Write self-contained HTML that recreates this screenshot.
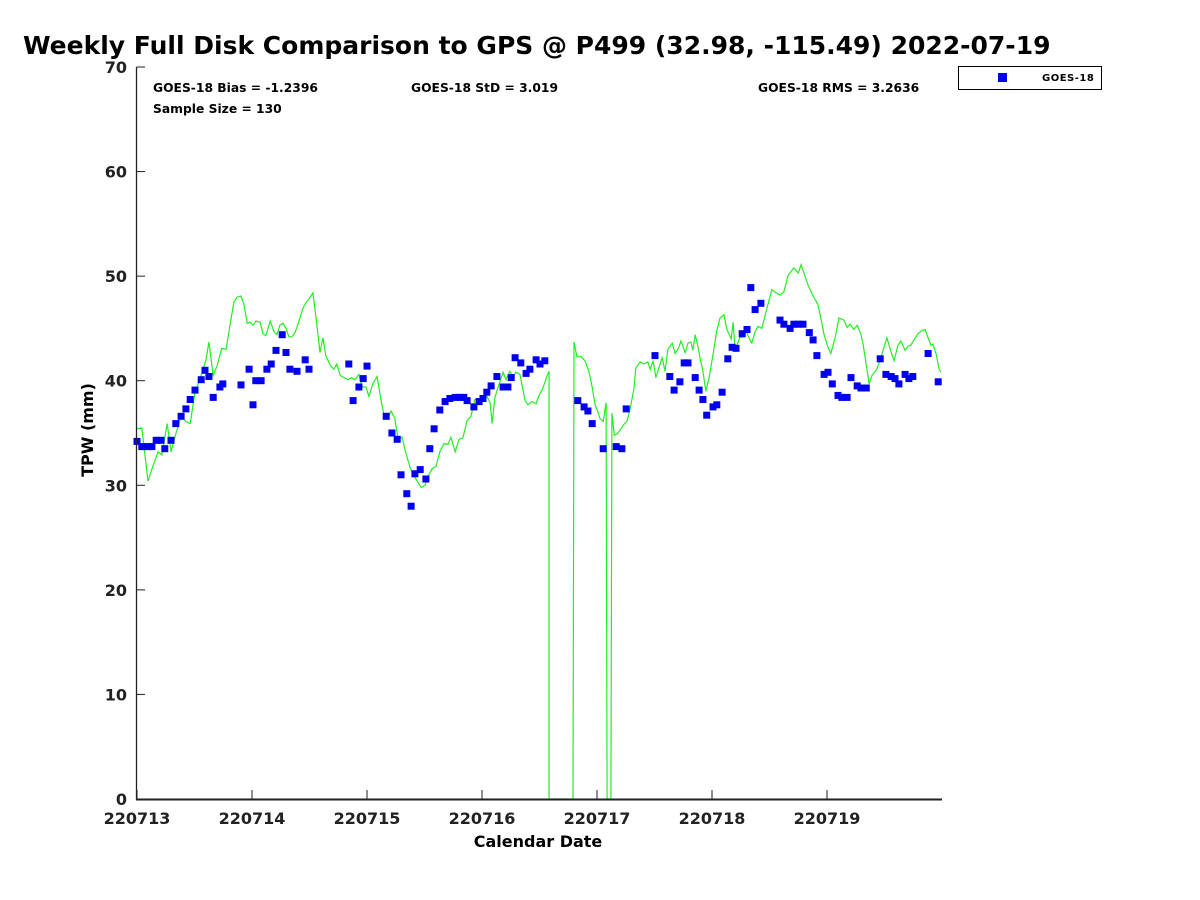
<!DOCTYPE html>
<html><head><meta charset="utf-8"><style>
body{margin:0;background:#fff;}
svg{display:block;font-family:"DejaVu Sans","Liberation Sans",sans-serif;font-weight:bold;}
</style></head><body>
<svg id="chart" width="1200" height="900" viewBox="0 0 1200 900">
<text x="23" y="54" font-size="25" fill="#000">Weekly Full Disk Comparison to GPS @ P499 (32.98, -115.49) 2022-07-19</text>
<text x="153" y="92" font-size="12.3">GOES-18 Bias = -1.2396</text>
<text x="153" y="113" font-size="12.3">Sample Size = 130</text>
<text x="411" y="92" font-size="12.3">GOES-18 StD = 3.019</text>
<text x="758" y="92" font-size="12.3">GOES-18 RMS = 3.2636</text>
<g>
<rect x="958.5" y="66.5" width="143" height="23" fill="#fff" stroke="#000" stroke-width="1"/>
<rect x="998" y="73" width="9" height="9" fill="#0000ee"/>
<text x="1042" y="81" font-size="10" letter-spacing="0.5">GOES-18</text>
</g>
<text transform="translate(93,430) rotate(-90)" text-anchor="middle" font-size="16">TPW (mm)</text>
<text x="538" y="847" text-anchor="middle" font-size="16">Calendar Date</text>
<g id="marks"></g>
<g id="axes"></g>
</svg>
<script>
const xTickLabels=["220713","220714","220715","220716","220717","220718","220719"];
const yTickValues=[0,10,20,30,40,50,60,70];
const lineHours=[0,1.0,2.3,3.3,4.4,5.2,6.3,7.1,8.1,9.2,10.2,11.1,12.1,13.1,14.4,15.0,15.9,16.7,17.7,18.6,19.4,20.2,20.9,21.7,22.3,23.0,23.6,24.2,24.8,25.7,26.3,26.9,27.8,28.6,29.2,29.8,30.5,31.1,31.7,32.3,33.0,33.8,34.6,35.3,35.9,36.7,37.4,38.2,38.8,39.4,40.3,41.1,41.7,42.4,43.2,44.1,44.7,45.5,46.3,47.0,47.8,48.4,49.3,50.1,50.9,51.5,52.4,53.0,53.8,54.5,55.3,56.1,57.0,57.8,58.6,59.3,60.1,60.7,61.6,62.4,63.2,64.1,64.9,65.5,66.4,67.2,68.0,68.9,69.7,70.5,71.4,72.2,72.8,73.7,74.1,74.7,75.5,76.4,77.0,77.8,78.5,79.1,79.9,81.0,81.6,82.4,83.3,83.9,84.7,85.6,86.0,86.0,91.0,91.2,91.8,92.7,93.5,94.3,95.0,95.6,96.2,96.6,97.3,97.9,98.1,98.9,99.1,99.6,100.2,101.0,101.6,102.3,102.9,103.7,104.1,105.0,105.8,106.6,107.1,107.7,108.3,108.9,109.6,110.2,110.8,111.7,112.3,113.1,113.5,114.4,115.0,115.6,116.0,116.5,117.1,117.5,118.1,118.7,119.4,120.2,121.0,121.7,122.5,123.1,124.0,124.4,124.8,125.2,125.8,126.7,127.1,127.7,128.3,129.0,129.6,130.4,130.9,131.5,132.5,133.4,134.2,135.0,135.9,137.1,138.0,138.6,139.4,140.0,141.1,142.1,142.7,143.4,144.2,144.8,145.7,146.5,147.5,148.2,148.8,149.6,150.3,151.1,151.5,152.1,152.8,153.4,154.4,155.1,155.9,156.5,157.4,158.0,158.8,159.4,160.3,160.9,161.5,162.4,163.0,163.8,164.5,165.1,165.7,166.1,166.8,167.4,167.8];
const lineValues=[35.4,35.5,30.4,31.8,33.2,32.9,35.9,33.2,34.9,36.6,36.1,35.9,38.9,40.1,42.0,43.7,40.5,41.4,43.1,43.0,45.3,47.5,48.0,48.1,47.3,45.5,45.6,45.3,45.7,45.6,44.5,44.3,45.7,44.7,44.4,45.3,45.5,45.0,44.2,44.2,44.6,45.7,46.9,47.5,47.8,48.4,45.9,42.7,44.1,42.4,41.5,41.1,41.6,40.5,40.3,40.1,40.3,40.1,40.6,39.4,39.4,38.5,39.8,40.4,38.2,36.8,36.5,37.1,36.4,34.4,34.6,33.1,31.7,30.9,30.3,29.8,30.0,30.8,31.6,31.8,33.2,34.0,33.9,34.6,33.2,34.4,34.5,36.2,36.6,38.2,38.3,38.5,38.7,37.9,35.9,38.4,39.6,40.8,40.1,40.9,40.4,40.8,40.6,38.1,37.7,38.0,37.8,38.6,39.3,40.5,40.9,0,0,43.7,42.3,42.3,41.9,40.9,39.4,37.7,37.0,36.4,36.1,37.9,0,0,36.9,34.8,34.9,35.4,35.8,36.2,37.3,39.2,41.2,41.8,41.6,41.8,41.1,41.9,40.3,41.2,42.2,40.9,43.0,43.6,42.6,43.2,43.8,42.7,43.6,43.7,42.9,44.4,43.2,42.2,40.9,39.0,40.3,42.5,44.8,46.0,46.3,44.9,44.0,45.6,43.1,43.4,44.1,44.2,44.8,44.1,43.6,44.7,45.2,45.0,45.9,47.0,48.7,48.4,48.2,48.5,50.1,50.8,50.3,51.1,50.0,49.2,48.1,47.3,46.0,44.4,43.2,42.6,44.1,46.0,45.8,45.1,45.4,44.9,45.3,44.4,43.6,41.8,39.7,40.5,41.1,42.0,43.2,44.1,42.7,41.9,43.4,43.8,42.9,43.3,43.4,44.1,44.5,44.8,44.9,44.1,43.4,43.5,42.5,41.1,40.8];
const pointHours=[0,1.0,2.1,3.1,4.0,5.0,5.8,7.1,8.1,9.2,10.2,11.1,12.1,13.4,14.2,15.0,15.9,17.3,17.9,21.7,23.4,24.2,24.8,25.9,27.1,28.0,29.0,30.3,31.1,31.9,33.4,35.1,35.9,44.2,45.1,46.3,47.2,48.0,52.0,53.2,54.3,55.1,56.3,57.2,58.0,59.1,60.3,61.1,62.0,63.2,64.3,65.3,66.4,67.4,68.2,68.9,70.3,71.4,72.2,73.0,73.9,75.1,76.4,77.4,78.1,78.9,80.1,81.2,82.0,83.3,84.1,85.1,92.0,93.3,94.1,95.0,97.3,100.0,101.2,102.1,108.1,111.2,112.1,113.3,114.2,115.0,116.5,117.3,118.1,118.9,120.2,121.0,122.1,123.3,124.2,125.0,126.3,127.3,128.1,129.0,130.2,134.2,135.0,136.3,137.1,138.0,139.0,140.3,141.1,141.9,143.4,144.2,145.1,146.3,147.1,148.2,149.0,150.3,151.1,152.2,155.1,156.3,157.4,158.2,159.0,160.3,161.1,161.9,165.1,167.2];
const pointValues=[34.2,33.7,33.7,33.7,34.3,34.3,33.5,34.3,35.9,36.6,37.3,38.2,39.1,40.1,41.0,40.4,38.4,39.4,39.7,39.6,41.1,37.7,40.0,40.0,41.1,41.6,42.9,44.4,42.7,41.1,40.9,42.0,41.1,41.6,38.1,39.4,40.2,41.4,36.6,35.0,34.4,31.0,29.2,28.0,31.1,31.5,30.6,33.5,35.4,37.2,38.0,38.3,38.4,38.4,38.4,38.1,37.5,38.0,38.3,38.9,39.5,40.4,39.4,39.4,40.3,42.2,41.7,40.7,41.1,42.0,41.6,41.9,38.1,37.5,37.1,35.9,33.5,33.7,33.5,37.3,42.4,40.4,39.1,39.9,41.7,41.7,40.3,39.1,38.2,36.7,37.5,37.7,38.9,42.1,43.2,43.1,44.5,44.9,48.9,46.8,47.4,45.8,45.4,45.0,45.4,45.4,45.4,44.6,43.9,42.4,40.6,40.8,39.7,38.6,38.4,38.4,40.3,39.5,39.3,39.3,42.1,40.6,40.4,40.2,39.7,40.6,40.2,40.4,42.6,39.9];

const NS="http://www.w3.org/2000/svg";
const X0=137,X1=942,Y0=799,Y1=67,HMAX=168,VMAX=70;
function xs(h){return X0+(X1-X0)*h/HMAX;}
function ys(v){return Y0-(Y0-Y1)*v/VMAX;}
function mk(tag,attrs,parent){const e=document.createElementNS(NS,tag);for(const k in attrs)e.setAttribute(k,attrs[k]);parent.appendChild(e);return e;}
const axes=document.getElementById('axes'),marks=document.getElementById('marks');

let d='';
lineHours.forEach((h,i)=>{d+=(i?'L':'M')+xs(h).toFixed(1)+','+ys(lineValues[i]).toFixed(1);});
const path=mk('path',{d:d,fill:'none',stroke:'#22ee22','stroke-width':1.2},marks);



pointHours.forEach((h,i)=>{
  const r=mk('rect',{x:(xs(h)-3.5).toFixed(1),y:(ys(pointValues[i])-3.5).toFixed(1),width:7,height:7,fill:'#0000ee'},marks);
  
  
});

const yAxis=mk('line',{x1:136.5,y1:Y1,x2:136.5,y2:Y0+0.5,stroke:'#222','stroke-width':1.3},axes);


const xAxis=mk('line',{x1:136,y1:Y0+0.5,x2:X1,y2:Y0+0.5,stroke:'#222','stroke-width':2},axes);



yTickValues.forEach(v=>{
  const y=ys(v);
  const t=mk('line',{x1:136.5,y1:y,x2:145,y2:y,stroke:'#222','stroke-width':1},axes);
  
  
  const l=mk('text',{x:127,y:y+6,'text-anchor':'end','font-size':16,fill:'#222'},axes);
  l.textContent=v;
  
  
});
xTickLabels.forEach((s,i)=>{
  const x=xs(i*24);
  const t=mk('line',{x1:x,y1:Y0,x2:x,y2:Y0-9,stroke:'#222','stroke-width':1},axes);
  
  
  const l=mk('text',{x:x,y:824,'text-anchor':'middle','font-size':16,fill:'#222'},axes);
  l.textContent=s;
  
  
});
</script>
</body></html>
